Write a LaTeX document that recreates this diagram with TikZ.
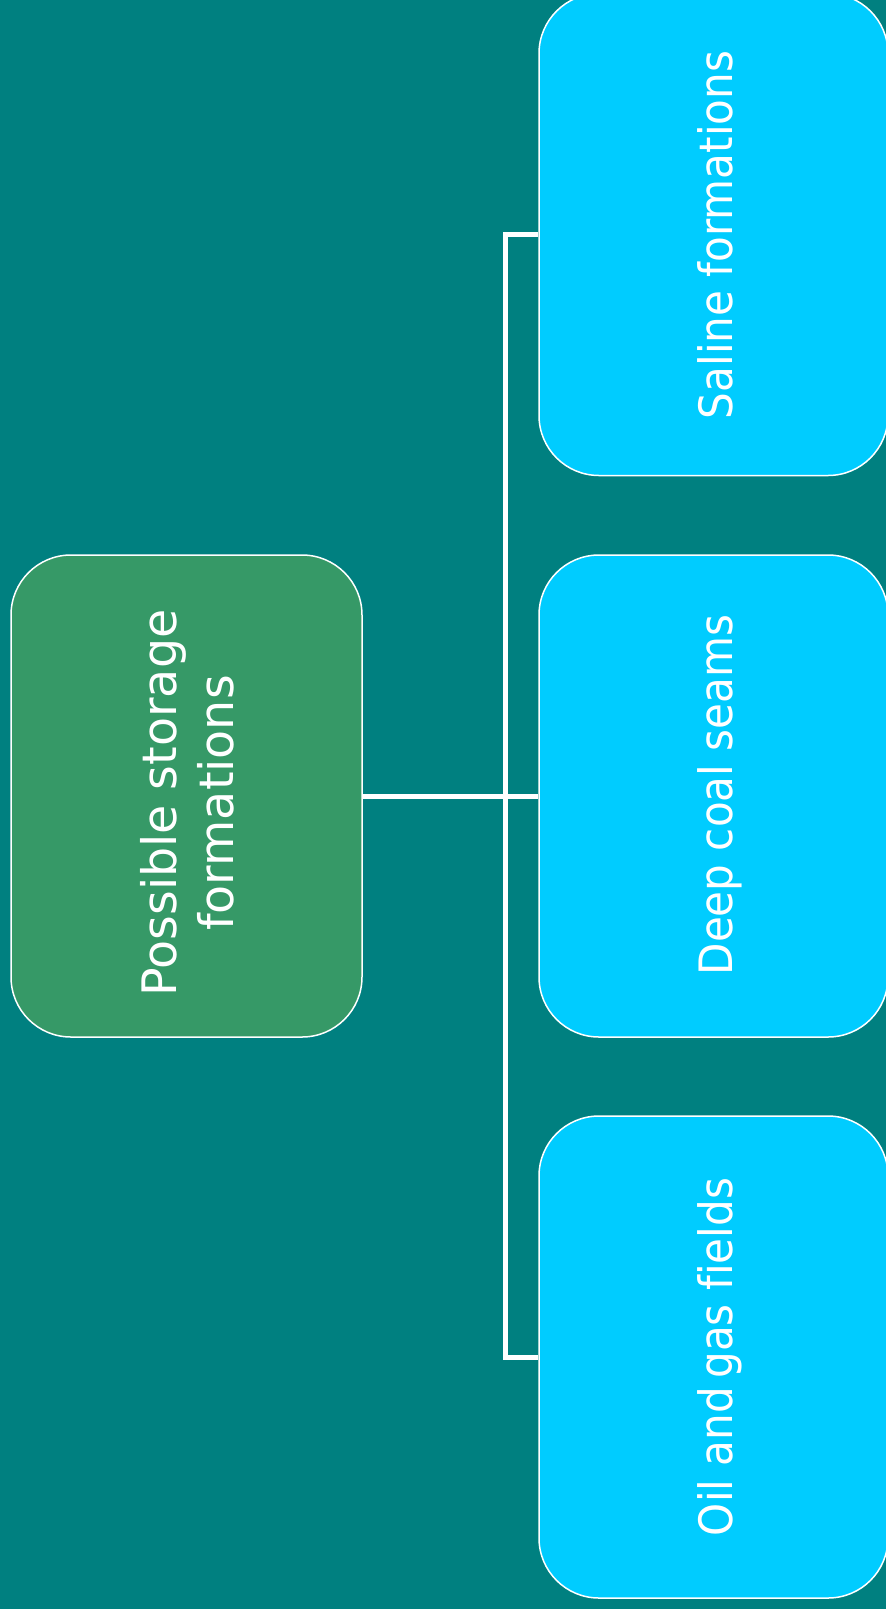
\documentclass[tikz,border=0pt]{standalone}
\usepackage{fontspec}
\usepackage{graphicx}
\setmainfont{DejaVu Sans}[Ligatures=NoCommon]
\definecolor{bgteal}{RGB}{0,128,128}
\definecolor{leafblue}{RGB}{0,204,255}
\definecolor{rootgreen}{RGB}{54,153,103}
\tikzset{
  box/.style={rectangle, rounded corners=60pt, draw=white, line width=1.5pt,
    minimum height=482pt, inner sep=0pt},
  leaf/.style={box, fill=leafblue, minimum width=349pt},
  root/.style={box, fill=rootgreen, minimum width=351pt},
  lbl/.style={text=white, rotate=90, inner sep=0pt, font=\fontsize{46}{57}\selectfont},
  conn/.style={draw=white, line width=5pt}
}
\begin{document}
\begin{tikzpicture}[x=1pt,y=1pt]
\fill[bgteal] (0,-1609) rectangle (886,0);
\useasboundingbox (0,-1609) rectangle (886,0);
% boxes
\node[root] (root) at (186.5,-796) {};
\node[leaf] (saline) at (713.5,-234.5) {};
\node[leaf] (coal) at (713.5,-796) {};
\node[leaf] (oil) at (713.5,-1357) {};
% connectors
\draw[conn] (root.east) -- (coal.west);
\draw[conn] (saline.west) -- ++(-33,0) |- (oil.west);
% labels
\node[lbl, align=center, anchor=center, font=\fontsize{47.5}{57}\selectfont] (rootlbl) at (187,-803) {Possible storage\\formations};
\node[lbl, anchor=base] (salinelbl) at (732,-235) {\scalebox{0.915}[1]{Saline formations}};
\node[lbl, anchor=base] (coallbl) at (732,-795) {\scalebox{0.915}[1]{Deep coal seams}};
\node[lbl, anchor=base] (oillbl) at (732,-1357) {\scalebox{0.915}[1]{Oil and\hspace{0.2em}gas fields}};
\end{tikzpicture}
\end{document}
